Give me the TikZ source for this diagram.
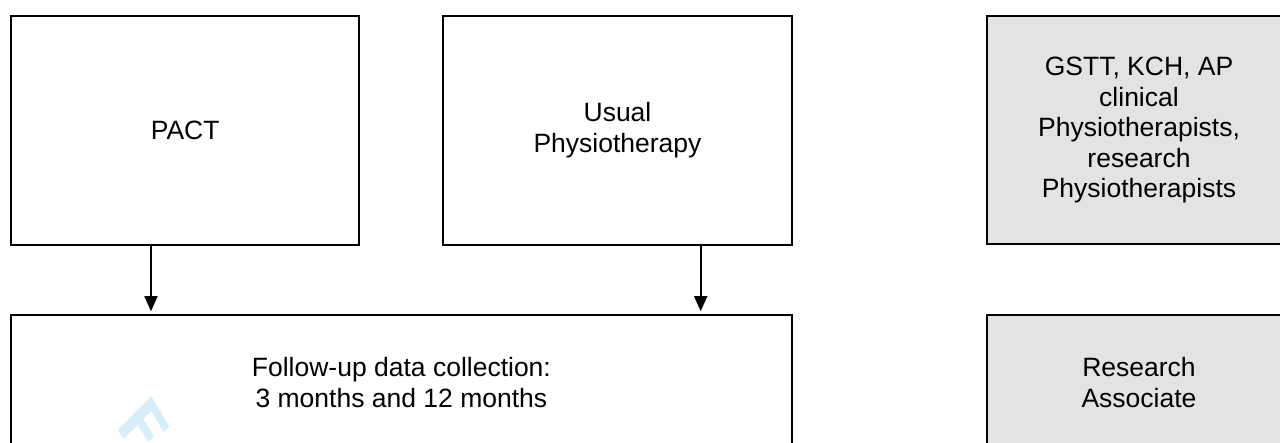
\documentclass[tikz,border=0pt]{standalone}
\usepackage{fontspec}
\setmainfont{Liberation Sans}
\usetikzlibrary{arrows.meta}

\definecolor{boxgray}{RGB}{227,227,227}
\definecolor{markblue}{RGB}{214,238,250}

\begin{document}
\begin{tikzpicture}[x=1pt, y=-1pt,
  box/.style={draw, line width=2pt, inner sep=0pt, align=center,
    font=\fontsize{26.5}{30.5}\selectfont},
  staff/.style={box, fill=boxgray},
  arr/.style={line width=1.6pt, -{Triangle[width=13pt,length=15pt]}, shorten >=2.5pt}]
  \useasboundingbox (0,0) rectangle (1280,443);
  \clip (0,0) rectangle (1280,443);
  % sizes in pixels of the 1280x443 sheet; lower row and right column run past the edges
  \fill[markblue] (118,430) -- (151.3,396) -- (169.3,427) -- (163.6,432)
    -- (151.3,411) -- (123.7,439) -- cycle;
  \fill[markblue] (137.6,424.6) -- (143.3,419) -- (154.1,437) -- (148.4,442) -- cycle;
  \node[box, minimum width=348.3pt, minimum height=229.3pt] (pact) at (185.2,130.4) {PACT};
  \node[box, minimum width=348.3pt, minimum height=229.3pt] (usual) at (617.5,130.4) {Usual\\Physiotherapy};
  \node[box, minimum width=781.3pt, minimum height=135.3pt] (follow) at (401.4,382.4)
    {Follow-up data collection:\\3 months and 12 months};
  \node[staff, minimum width=304pt, minimum height=228.8pt] (physios) at (1139,130.1)
    {GSTT, KCH, AP\\clinical\\Physiotherapists,\\research\\Physiotherapists};
  \node[staff, minimum width=304pt, minimum height=135pt] (ra) at (1139,382.5) {Research\\Associate};
  \draw[arr] ([xshift=-34.2pt]pact.south) -- ([xshift=-34.2pt]pact.south |- follow.north);
  \draw[arr] ([xshift=83.2pt]usual.south) -- ([xshift=83.2pt]usual.south |- follow.north);
\end{tikzpicture}
\end{document}
